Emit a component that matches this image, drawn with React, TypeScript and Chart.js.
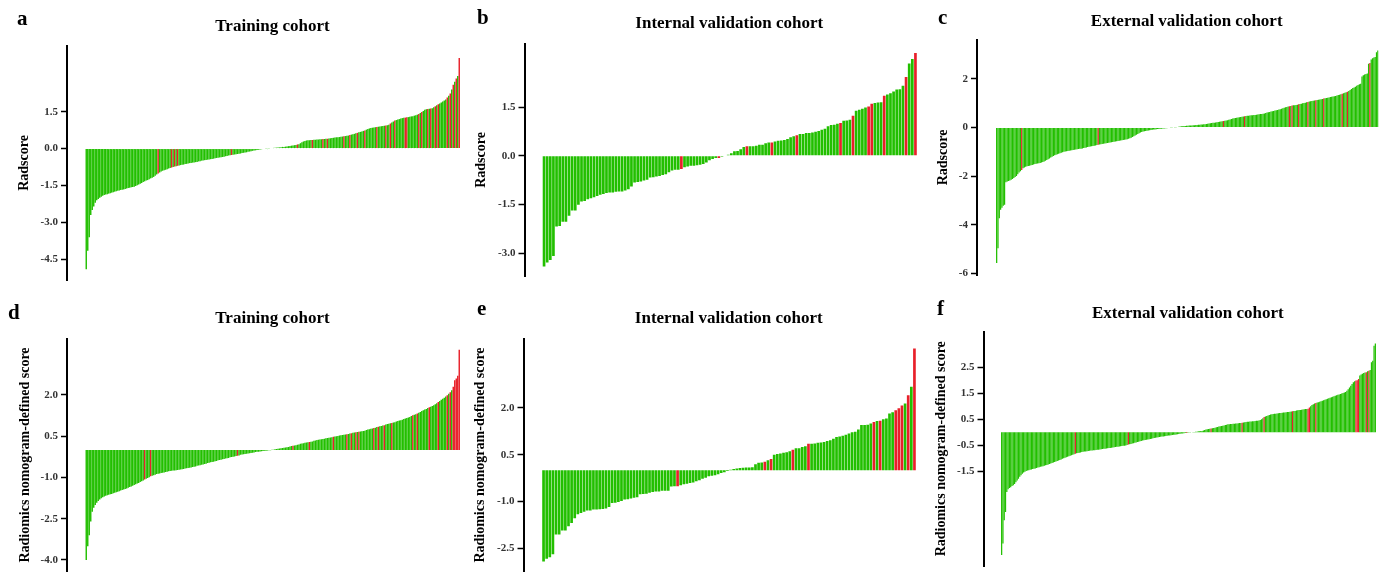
import React, { useEffect, useRef } from "react";
import { Chart, registerables } from "chart.js";

Chart.register(...registerables);

const GREEN = "#22BF00";
const RED = "#E8202A";
const SERIF = "'Liberation Serif', 'Times New Roman', serif";

// ---------- Data (sorted scores per patient; red = event) ----------
const trainingRadscore = [
  -4.9, -4.15, -3.6, -2.7, -2.5, -2.35, -2.2, -2.1, -2.05, -2.0,
  -1.96, -1.92, -1.89, -1.87, -1.85, -1.83, -1.81, -1.79, -1.77, -1.75,
  -1.73, -1.71, -1.7, -1.68, -1.67, -1.66, -1.64, -1.62, -1.6, -1.59,
  -1.57, -1.56, -1.55, -1.52, -1.49, -1.46, -1.43, -1.4, -1.36, -1.33,
  -1.3, -1.28, -1.25, -1.21, -1.18, -1.15, -1.1, -1.05, -1.01, -0.97,
  -0.93, -0.9, -0.88, -0.86, -0.84, -0.81, -0.79, -0.77, -0.75, -0.73,
  -0.72, -0.7, -0.69, -0.67, -0.66, -0.65, -0.63, -0.62, -0.61, -0.59,
  -0.58, -0.57, -0.56, -0.55, -0.54, -0.52, -0.51, -0.49, -0.48, -0.47,
  -0.46, -0.45, -0.44, -0.43, -0.42, -0.41, -0.39, -0.38, -0.37, -0.36,
  -0.35, -0.34, -0.33, -0.31, -0.3, -0.28, -0.27, -0.26, -0.25, -0.24,
  -0.23, -0.22, -0.21, -0.2, -0.18, -0.17, -0.16, -0.15, -0.13, -0.12,
  -0.11, -0.09, -0.08, -0.07, -0.06, -0.05, -0.04, -0.03, -0.02, -0.02,
  -0.01, -0.01, 0.01, 0.02, 0.02, 0.03, 0.03, 0.04, 0.05, 0.05,
  0.06, 0.07, 0.07, 0.08, 0.09, 0.1, 0.11, 0.12, 0.13, 0.14,
  0.15, 0.17, 0.18, 0.22, 0.26, 0.29, 0.31, 0.33, 0.34, 0.34,
  0.35, 0.35, 0.36, 0.36, 0.37, 0.37, 0.38, 0.38, 0.39, 0.39,
  0.4, 0.4, 0.41, 0.42, 0.43, 0.44, 0.45, 0.46, 0.46, 0.47,
  0.48, 0.49, 0.5, 0.51, 0.52, 0.53, 0.55, 0.57, 0.58, 0.6,
  0.62, 0.64, 0.66, 0.68, 0.7, 0.72, 0.74, 0.77, 0.8, 0.82,
  0.84, 0.85, 0.86, 0.87, 0.88, 0.89, 0.9, 0.91, 0.92, 0.93,
  0.94, 0.95, 0.97, 1.02, 1.06, 1.1, 1.14, 1.16, 1.18, 1.2,
  1.22, 1.24, 1.25, 1.26, 1.27, 1.28, 1.29, 1.31, 1.32, 1.34,
  1.36, 1.38, 1.41, 1.45, 1.49, 1.53, 1.58, 1.6, 1.61, 1.62,
  1.63, 1.64, 1.68, 1.72, 1.76, 1.8, 1.83, 1.87, 1.91, 1.95,
  2.0, 2.08, 2.15, 2.24, 2.4, 2.6, 2.72, 2.85, 2.95, 3.68,
];
const trainingRadscoreRed = [
  48, 57, 59, 61, 97, 141, 151, 158, 161, 172, 176, 181, 186, 194, 200, 203,
  206, 213, 214, 222, 224, 228, 230, 233, 235, 241, 243, 245, 247, 249,
];

const internalRadscore = [
  -3.41, -3.29, -3.21, -3.09, -2.18, -2.16, -2.03, -2.03, -1.85, -1.69,
  -1.69, -1.51, -1.41, -1.39, -1.34, -1.31, -1.28, -1.24, -1.2, -1.18,
  -1.15, -1.13, -1.13, -1.11, -1.1, -1.1, -1.07, -1.03, -0.95, -0.82,
  -0.81, -0.79, -0.76, -0.74, -0.67, -0.66, -0.64, -0.62, -0.59, -0.57,
  -0.51, -0.45, -0.43, -0.43, -0.41, -0.35, -0.33, -0.31, -0.31, -0.29,
  -0.28, -0.25, -0.21, -0.14, -0.1, -0.07, -0.07, -0.03, 0.02, 0.03,
  0.08, 0.14, 0.15, 0.2, 0.27, 0.29, 0.29, 0.29, 0.31, 0.34,
  0.34, 0.39, 0.41, 0.41, 0.44, 0.46, 0.47, 0.49, 0.52, 0.57,
  0.6, 0.63, 0.67, 0.67, 0.7, 0.7, 0.72, 0.74, 0.76, 0.8,
  0.83, 0.91, 0.95, 0.96, 0.99, 1.01, 1.08, 1.09, 1.11, 1.23,
  1.39, 1.42, 1.45, 1.49, 1.52, 1.6, 1.63, 1.64, 1.65, 1.85,
  1.89, 1.93, 1.98, 2.04, 2.05, 2.16, 2.43, 2.84, 2.98, 3.17,
];
const internalRadscoreRed = [44, 56, 65, 73, 81, 95, 99, 104, 105, 109, 116, 119];

const externalRadscore = [
  -5.58, -4.97, -3.73, -3.39, -3.3, -3.22, -3.18, -2.25, -2.22, -2.2,
  -2.18, -2.15, -2.12, -2.08, -2.04, -2.0, -1.92, -1.85, -1.8, -1.75,
  -1.68, -1.65, -1.62, -1.6, -1.58, -1.57, -1.55, -1.54, -1.52, -1.5,
  -1.49, -1.48, -1.47, -1.46, -1.44, -1.42, -1.4, -1.37, -1.34, -1.31,
  -1.28, -1.24, -1.2, -1.17, -1.14, -1.12, -1.1, -1.08, -1.06, -1.04,
  -1.02, -1.0, -0.99, -0.98, -0.97, -0.96, -0.95, -0.94, -0.93, -0.92,
  -0.91, -0.9, -0.89, -0.88, -0.87, -0.86, -0.84, -0.83, -0.82, -0.8,
  -0.79, -0.78, -0.77, -0.76, -0.75, -0.74, -0.72, -0.71, -0.7, -0.69,
  -0.68, -0.67, -0.66, -0.65, -0.64, -0.63, -0.62, -0.61, -0.6, -0.59,
  -0.58, -0.57, -0.56, -0.55, -0.54, -0.53, -0.52, -0.5, -0.49, -0.48,
  -0.46, -0.44, -0.42, -0.39, -0.36, -0.33, -0.3, -0.27, -0.24, -0.21,
  -0.19, -0.17, -0.15, -0.14, -0.13, -0.12, -0.11, -0.1, -0.09, -0.08,
  -0.08, -0.07, -0.06, -0.06, -0.05, -0.05, -0.04, -0.04, -0.03, -0.03,
  -0.02, -0.02, -0.01, -0.01, 0.0, 0.01, 0.01, 0.02, 0.03, 0.04,
  0.05, 0.05, 0.06, 0.06, 0.07, 0.07, 0.08, 0.08, 0.08, 0.09,
  0.09, 0.1, 0.1, 0.11, 0.11, 0.12, 0.12, 0.13, 0.13, 0.14,
  0.15, 0.16, 0.17, 0.18, 0.19, 0.2, 0.21, 0.22, 0.23, 0.24,
  0.25, 0.26, 0.27, 0.28, 0.29, 0.3, 0.32, 0.33, 0.35, 0.37,
  0.38, 0.39, 0.4, 0.41, 0.42, 0.43, 0.44, 0.45, 0.46, 0.47,
  0.48, 0.48, 0.49, 0.5, 0.5, 0.51, 0.51, 0.52, 0.53, 0.54,
  0.55, 0.56, 0.57, 0.58, 0.6, 0.62, 0.63, 0.64, 0.66, 0.67,
  0.68, 0.7, 0.71, 0.72, 0.74, 0.75, 0.77, 0.79, 0.81, 0.83,
  0.84, 0.86, 0.87, 0.88, 0.9, 0.91, 0.92, 0.93, 0.94, 0.96,
  0.97, 0.98, 1.0, 1.01, 1.02, 1.04, 1.05, 1.07, 1.08, 1.09,
  1.1, 1.11, 1.12, 1.13, 1.14, 1.15, 1.16, 1.17, 1.19, 1.2,
  1.21, 1.22, 1.23, 1.25, 1.26, 1.28, 1.29, 1.3, 1.32, 1.34,
  1.35, 1.37, 1.39, 1.41, 1.43, 1.45, 1.47, 1.5, 1.54, 1.58,
  1.62, 1.65, 1.68, 1.72, 1.75, 1.78, 1.8, 2.1, 2.15, 2.18,
  2.2, 2.22, 2.62, 2.65, 2.8, 2.85, 2.88, 2.9, 3.1, 3.17,
];
const externalRadscoreRed = [19, 77, 172, 188, 222, 224, 229, 236, 242, 248, 262, 266, 283];

const trainingNomogram = [
  -4.0, -3.5, -3.1, -2.6, -2.25, -2.1, -2.0, -1.92, -1.86, -1.8,
  -1.76, -1.72, -1.69, -1.67, -1.65, -1.63, -1.61, -1.6, -1.58, -1.56,
  -1.54, -1.52, -1.5, -1.48, -1.46, -1.44, -1.42, -1.4, -1.38, -1.35,
  -1.33, -1.3, -1.28, -1.25, -1.22, -1.2, -1.17, -1.14, -1.11, -1.08,
  -1.05, -1.02, -0.99, -0.96, -0.94, -0.92, -0.9, -0.88, -0.87, -0.86,
  -0.84, -0.83, -0.82, -0.8, -0.79, -0.78, -0.77, -0.76, -0.75, -0.75,
  -0.74, -0.73, -0.72, -0.71, -0.7, -0.69, -0.68, -0.67, -0.66, -0.65,
  -0.64, -0.62, -0.61, -0.6, -0.58, -0.57, -0.56, -0.54, -0.53, -0.51,
  -0.5, -0.48, -0.47, -0.45, -0.44, -0.43, -0.41, -0.4, -0.38, -0.37,
  -0.36, -0.34, -0.33, -0.31, -0.3, -0.29, -0.27, -0.26, -0.25, -0.24,
  -0.22, -0.21, -0.2, -0.18, -0.17, -0.16, -0.15, -0.14, -0.13, -0.12,
  -0.11, -0.1, -0.09, -0.08, -0.07, -0.07, -0.06, -0.05, -0.04, -0.03,
  -0.03, -0.02, -0.01, -0.01, 0.01, 0.01, 0.02, 0.03, 0.04, 0.05,
  0.06, 0.07, 0.08, 0.09, 0.1, 0.11, 0.12, 0.14, 0.15, 0.16,
  0.17, 0.19, 0.2, 0.22, 0.23, 0.24, 0.26, 0.27, 0.28, 0.29,
  0.3, 0.31, 0.33, 0.34, 0.36, 0.37, 0.38, 0.39, 0.4, 0.41,
  0.42, 0.43, 0.44, 0.45, 0.46, 0.48, 0.49, 0.5, 0.51, 0.52,
  0.53, 0.54, 0.55, 0.56, 0.57, 0.58, 0.6, 0.61, 0.62, 0.63,
  0.64, 0.65, 0.66, 0.67, 0.68, 0.69, 0.7, 0.72, 0.74, 0.75,
  0.77, 0.78, 0.8, 0.81, 0.83, 0.84, 0.86, 0.87, 0.89, 0.9,
  0.92, 0.94, 0.95, 0.97, 0.98, 1.0, 1.01, 1.03, 1.05, 1.07,
  1.08, 1.1, 1.12, 1.14, 1.16, 1.18, 1.2, 1.23, 1.26, 1.28,
  1.3, 1.32, 1.35, 1.38, 1.41, 1.44, 1.47, 1.49, 1.52, 1.55,
  1.57, 1.6, 1.62, 1.66, 1.7, 1.74, 1.78, 1.82, 1.86, 1.9,
  1.94, 1.99, 2.04, 2.1, 2.17, 2.3, 2.53, 2.6, 2.7, 3.64,
];
const trainingNomogramRed = [
  39, 43, 101, 138, 149, 165, 174, 177, 180, 182, 192, 195, 199, 204, 218,
  221, 229, 235, 241, 243, 245, 246, 247, 248, 249,
];

const internalNomogram = [
  -2.93, -2.84, -2.79, -2.7, -2.06, -2.06, -1.93, -1.93, -1.8, -1.69,
  -1.54, -1.41, -1.37, -1.33, -1.29, -1.29, -1.26, -1.26, -1.25, -1.24,
  -1.23, -1.18, -1.05, -1.04, -1.02, -0.99, -0.94, -0.93, -0.91, -0.88,
  -0.87, -0.77, -0.76, -0.75, -0.72, -0.7, -0.68, -0.68, -0.66, -0.66,
  -0.66, -0.52, -0.51, -0.51, -0.48, -0.45, -0.43, -0.41, -0.39, -0.35,
  -0.32, -0.27, -0.24, -0.19, -0.18, -0.16, -0.13, -0.09, -0.06, -0.02,
  0.02, 0.04, 0.06, 0.07, 0.08, 0.09, 0.09, 0.1, 0.19, 0.24,
  0.25, 0.27, 0.32, 0.36, 0.5, 0.52, 0.54, 0.56, 0.58, 0.61,
  0.66, 0.71, 0.71, 0.75, 0.77, 0.85, 0.85, 0.86, 0.88, 0.89,
  0.91, 0.94, 0.96, 1.01, 1.07, 1.08, 1.11, 1.14, 1.18, 1.22,
  1.24, 1.31, 1.45, 1.45, 1.46, 1.5, 1.55, 1.58, 1.59, 1.64,
  1.66, 1.82, 1.86, 1.93, 1.99, 2.08, 2.14, 2.41, 2.68, 3.91,
];
const internalNomogramRed = [43, 71, 73, 80, 85, 106, 108, 113, 114, 115, 117, 119];

const externalNomogram = [
  -4.74, -4.29, -3.4, -3.08, -2.31, -2.2, -2.15, -2.12, -2.08, -2.05,
  -2.0, -1.93, -1.86, -1.8, -1.72, -1.66, -1.6, -1.56, -1.53, -1.5,
  -1.48, -1.47, -1.45, -1.44, -1.42, -1.41, -1.4, -1.38, -1.36, -1.35,
  -1.33, -1.32, -1.31, -1.3, -1.28, -1.27, -1.25, -1.23, -1.21, -1.19,
  -1.17, -1.15, -1.13, -1.11, -1.09, -1.07, -1.05, -1.03, -1.01, -0.99,
  -0.97, -0.95, -0.93, -0.91, -0.89, -0.87, -0.85, -0.83, -0.81, -0.8,
  -0.79, -0.78, -0.77, -0.76, -0.75, -0.75, -0.74, -0.73, -0.72, -0.71,
  -0.71, -0.7, -0.7, -0.69, -0.68, -0.68, -0.67, -0.66, -0.65, -0.64,
  -0.64, -0.63, -0.62, -0.61, -0.61, -0.6, -0.59, -0.58, -0.57, -0.56,
  -0.56, -0.55, -0.54, -0.53, -0.52, -0.52, -0.51, -0.5, -0.48, -0.47,
  -0.46, -0.44, -0.43, -0.41, -0.4, -0.38, -0.37, -0.35, -0.34, -0.32,
  -0.31, -0.3, -0.29, -0.28, -0.27, -0.26, -0.25, -0.24, -0.23, -0.22,
  -0.21, -0.2, -0.19, -0.18, -0.17, -0.17, -0.16, -0.15, -0.14, -0.13,
  -0.13, -0.12, -0.11, -0.1, -0.1, -0.09, -0.08, -0.07, -0.06, -0.05,
  -0.05, -0.04, -0.03, -0.03, -0.02, -0.01, -0.01, 0.0, 0.01, 0.01,
  0.02, 0.02, 0.03, 0.03, 0.04, 0.04, 0.06, 0.08, 0.1, 0.11,
  0.12, 0.13, 0.14, 0.15, 0.16, 0.17, 0.19, 0.2, 0.22, 0.23,
  0.24, 0.25, 0.26, 0.28, 0.29, 0.3, 0.3, 0.31, 0.31, 0.32,
  0.32, 0.33, 0.33, 0.34, 0.35, 0.35, 0.36, 0.37, 0.38, 0.39,
  0.4, 0.4, 0.41, 0.41, 0.42, 0.42, 0.43, 0.44, 0.44, 0.45,
  0.47, 0.5, 0.54, 0.58, 0.6, 0.62, 0.64, 0.66, 0.68, 0.69,
  0.7, 0.71, 0.71, 0.72, 0.73, 0.74, 0.74, 0.75, 0.76, 0.76,
  0.77, 0.78, 0.78, 0.79, 0.8, 0.81, 0.82, 0.82, 0.83, 0.84,
  0.85, 0.85, 0.86, 0.87, 0.88, 0.89, 0.89, 0.9, 0.95, 1.0,
  1.05, 1.08, 1.1, 1.12, 1.14, 1.15, 1.17, 1.19, 1.21, 1.23,
  1.25, 1.27, 1.29, 1.31, 1.33, 1.35, 1.36, 1.38, 1.4, 1.42,
  1.44, 1.45, 1.47, 1.49, 1.51, 1.53, 1.55, 1.6, 1.65, 1.72,
  1.79, 1.86, 1.92, 1.96, 1.99, 2.0, 2.05, 2.18, 2.22, 2.25,
  2.28, 2.3, 2.31, 2.35, 2.37, 2.4, 2.69, 2.75, 3.33, 3.42,
];
const externalNomogramRed = [57, 98, 143, 162, 186, 203, 225, 237, 238, 243, 274, 275, 276, 282, 284];

// ---------- Tick labels ----------
const ticksTrainingRadscore = [1.5, 0, -1.5, -3, -4.5];
const ticksInternalRadscore = [1.5, 0, -1.5, -3];
const ticksExternalRadscore = [2, 0, -2, -4, -6];
const ticksTrainingNomogram = [2, 0.5, -1, -2.5, -4];
const ticksInternalNomogram = [2, 0.5, -1, -2.5];
const ticksExternalNomogram = [2.5, 1.5, 0.5, -0.5, -1.5];

const RADSCORE_TITLE = "Radscore";
const NOMOGRAM_TITLE = "Radiomics nomogram-defined score";

type Spec = {
  letter: string;
  title: string;
  yTitle: string;
  values: number[];
  red: number[];
  ticks: number[];
  decimals: number;
  box: { left: number; top: number; width: number; height: number };
  axisX: number;
  areaTop: number;
  areaBottom: number;
  barsLeft: number;
  barsRight: number;
  yMin: number;
  yMax: number;
  letterPos: [number, number];
  titlePos: [number, number];
  yTitleX: number;
  barPct: number;
};

const panels: Spec[] = [
  {
    letter: "a", title: "Training cohort", yTitle: RADSCORE_TITLE,
    values: trainingRadscore, red: trainingRadscoreRed, ticks: ticksTrainingRadscore, decimals: 1,
    box: { left: 0, top: 0, width: 470, height: 290 },
    axisX: 67, areaTop: 46, areaBottom: 280, barsLeft: 85.5, barsRight: 460,
    yMin: -5.34, yMax: 4.17, letterPos: [17, 25], titlePos: [272.5, 31], yTitleX: 24, barPct: 0.96,
  },
  {
    letter: "b", title: "Internal validation cohort", yTitle: RADSCORE_TITLE,
    values: internalRadscore, red: internalRadscoreRed, ticks: ticksInternalRadscore, decimals: 1,
    box: { left: 465, top: 0, width: 460, height: 290 },
    axisX: 524.5, areaTop: 43.5, areaBottom: 276.5, barsLeft: 542.5, barsRight: 917,
    yMin: -3.72, yMax: 3.46, letterPos: [477, 23.5], titlePos: [729.3, 28], yTitleX: 481.7, barPct: 0.86,
  },
  {
    letter: "c", title: "External validation cohort", yTitle: RADSCORE_TITLE,
    values: externalRadscore, red: externalRadscoreRed, ticks: ticksExternalRadscore, decimals: 0,
    box: { left: 925, top: 0, width: 461, height: 290 },
    axisX: 977, areaTop: 40, areaBottom: 275, barsLeft: 996, barsRight: 1378.5,
    yMin: -6.07, yMax: 3.6, letterPos: [938, 23.5], titlePos: [1186.7, 26], yTitleX: 943.3, barPct: 0.96,
  },
  {
    letter: "d", title: "Training cohort", yTitle: NOMOGRAM_TITLE,
    values: trainingNomogram, red: trainingNomogramRed, ticks: ticksTrainingNomogram, decimals: 1,
    box: { left: 0, top: 290, width: 470, height: 283 },
    axisX: 67, areaTop: 338.5, areaBottom: 571.5, barsLeft: 85.5, barsRight: 460,
    yMin: -4.42, yMax: 4.05, letterPos: [8, 318.5], titlePos: [272.5, 322.5], yTitleX: 25, barPct: 0.96,
  },
  {
    letter: "e", title: "Internal validation cohort", yTitle: NOMOGRAM_TITLE,
    values: internalNomogram, red: internalNomogramRed, ticks: ticksInternalNomogram, decimals: 1,
    box: { left: 465, top: 290, width: 460, height: 283 },
    axisX: 523.5, areaTop: 338.5, areaBottom: 571.5, barsLeft: 542, barsRight: 916,
    yMin: -3.25, yMax: 4.23, letterPos: [477, 315], titlePos: [728.8, 322.5], yTitleX: 480, barPct: 0.86,
  },
  {
    letter: "f", title: "External validation cohort", yTitle: NOMOGRAM_TITLE,
    values: externalNomogram, red: externalNomogramRed, ticks: ticksExternalNomogram, decimals: 1,
    box: { left: 925, top: 290, width: 461, height: 283 },
    axisX: 983.5, areaTop: 331.5, areaBottom: 566, barsLeft: 1001, barsRight: 1376,
    yMin: -5.16, yMax: 3.88, letterPos: [937, 315], titlePos: [1187.8, 317.5], yTitleX: 941.7, barPct: 0.96,
  },
];

const panelTextPlugin = {
  id: "panelText",
  afterDraw(chart: any, _args: any, opts: any) {
    const ctx = chart.ctx;
    ctx.save();
    ctx.fillStyle = "#000";
    ctx.textBaseline = "alphabetic";
    ctx.textAlign = "left";
    ctx.font = `bold 21px ${SERIF}`;
    ctx.fillText(opts.letter, opts.letterX, opts.letterY);
    ctx.textAlign = "center";
    ctx.font = `bold 17px ${SERIF}`;
    ctx.fillText(opts.title, opts.titleX, opts.titleY);
    ctx.restore();
  },
};

function Panel({ spec }: { spec: Spec }) {
  const ref = useRef<HTMLCanvasElement | null>(null);
  useEffect(() => {
    if (!ref.current) return;
    const s = spec;
    const n = s.values.length;
    const unit = (s.barsRight - s.barsLeft) / n;
    const xMin = -0.5 - (s.barsLeft - s.axisX) / unit;
    const xMax = n - 0.5;
    const yAxisWidth = s.axisX - s.box.left;
    const titleLineHalf = (14 * 1.2) / 2;
    const chart = new Chart(ref.current, {
      type: "bar",
      data: {
        datasets: [
          {
            data: s.values.map((v, i) => ({ x: i, y: v })),
            backgroundColor: s.values.map((_, i) => (s.red.includes(i) ? RED : GREEN)),
            borderWidth: 0,
            barPercentage: s.barPct,
            categoryPercentage: 1,
          } as any,
        ],
      },
      options: {
        responsive: false,
        animation: false,
        events: [],
        layout: {
          padding: {
            left: 0,
            top: s.areaTop - s.box.top,
            right: s.box.left + s.box.width - s.barsRight,
            bottom: s.box.top + s.box.height - s.areaBottom,
          },
        },
        plugins: {
          legend: { display: false },
          tooltip: { enabled: false },
          title: { display: false },
          panelText: {
            letter: s.letter,
            letterX: s.letterPos[0] - s.box.left,
            letterY: s.letterPos[1] - s.box.top,
            title: s.title,
            titleX: s.titlePos[0] - s.box.left,
            titleY: s.titlePos[1] - s.box.top,
          },
        } as any,
        scales: {
          x: {
            type: "linear",
            display: false,
            min: xMin,
            max: xMax,
            offset: false,
            grace: 0,
            bounds: "data",
            grid: { offset: false },
          } as any,
          y: {
            type: "linear",
            min: s.yMin,
            max: s.yMax,
            afterFit: (scale: any) => {
              scale.width = yAxisWidth;
              scale.paddingTop = 0;
              scale.paddingBottom = 0;
            },
            afterBuildTicks: (scale: any) => {
              scale.ticks = s.ticks.map((v) => ({ value: v }));
            },
            ticks: {
              callback: (v: any) => Number(v).toFixed(s.decimals),
              font: { family: SERIF, size: 11, weight: "bold" },
              color: "#333",
              padding: 3,
              autoSkip: false,
            },
            grid: {
              display: true,
              drawOnChartArea: false,
              drawTicks: true,
              tickLength: 6,
              tickColor: "#000",
              tickWidth: 1.5,
            },
            border: { display: true, color: "#000", width: 2 },
            title: {
              display: true,
              text: s.yTitle,
              color: "#000",
              font: { family: SERIF, size: 14, weight: "bold" },
              padding: { top: s.yTitleX - s.box.left - titleLineHalf, bottom: 0 },
            },
          } as any,
        },
      },
      plugins: [panelTextPlugin as any],
    });
    return () => chart.destroy();
  }, [spec]);
  return (
    <canvas
      ref={ref}
      width={spec.box.width}
      height={spec.box.height}
      style={{
        position: "absolute",
        left: spec.box.left,
        top: spec.box.top,
        width: spec.box.width,
        height: spec.box.height,
        display: "block",
      }}
    />
  );
}

export default function App() {
  return (
    <div
      style={{
        position: "absolute",
        left: 0,
        top: 0,
        width: 1386,
        height: 573,
        overflow: "hidden",
        background: "#fff",
      }}
    >
      {panels.map((p) => (
        <Panel key={p.letter} spec={p} />
      ))}
    </div>
  );
}
